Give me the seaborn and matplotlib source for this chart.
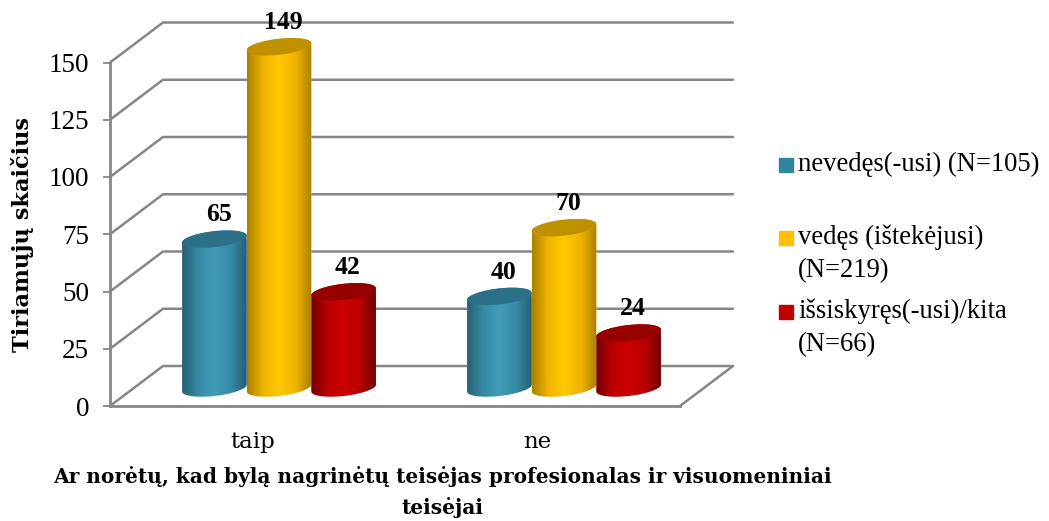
import numpy as np
import pandas as pd
import matplotlib
matplotlib.use("Agg")
import matplotlib.pyplot as plt
import seaborn as sns
from matplotlib.colors import LinearSegmentedColormap
from matplotlib.patches import PathPatch, Polygon, Rectangle
from matplotlib.path import Path

categories = ["taip", "ne"]
series_names = ["nevedęs(-usi) (N=105)", "vedęs (ištekėjusi)\n(N=219)", "išsiskyręs(-usi)/kita\n(N=66)"]
nevedes = [65, 40]
vedes = [149, 70]
issiskyres = [42, 24]
y_ticks = [0, 25, 50, 75, 100, 125, 150]
y_label = "Tiriamųjų skaičius"
x_label = "Ar norėtų, kad bylą nagrinėtų teisėjas profesionalas ir visuomeniniai\nteisėjai"

base_colors = ["#31859C", "#FFC000", "#C00000"]
shades = [
    ["#265F72", "#368BA6", "#409CB8", "#368BA6", "#265F72"],
    ["#A98000", "#F0B400", "#FFC800", "#F0B400", "#A98000"],
    ["#720000", "#BB0000", "#CC0000", "#BB0000", "#720000"],
]
cap_colors = ["#2B7087", "#BF9000", "#950000"]

W, H = 1049, 521
PX_Y = 343.5 / 150  # pixels per unit
PX_X = 285.0        # pixels per category
FLOOR_Y, LEFT_X, RIGHT_X = 406.0, 110.0, 680.0
BACK_DX, BACK_DY = 53.0, 40.0
GRAY = "#868686"

sns.set_theme(style="white")
plt.rcParams["font.family"] = ["DejaVu Serif", "Liberation Serif"]
plt.rcParams["text.color"] = "black"
plt.rcParams["xtick.color"] = "black"
plt.rcParams["ytick.color"] = "black"
times = ["Liberation Serif", "DejaVu Serif"]

df = pd.DataFrame({
    "answer": categories * 3,
    "group": np.repeat(series_names, len(categories)),
    "count": nevedes + vedes + issiskyres,
})

fig = plt.figure(figsize=(W / 100, H / 100), dpi=100)

# front plane: real y scale, ticks and category labels
ax = fig.add_axes([LEFT_X / W, (H - FLOOR_Y) / H, (RIGHT_X - LEFT_X) / W, 343.5 / H])
ax.set_xlim(-0.5, 1.5)
ax.set_ylim(0, 150)
ax.set_yticks(y_ticks)
ax.set_xticks(range(len(categories)))
ax.set_xticklabels(categories, fontsize=16.5)
ax.set_yticklabels([str(v) for v in y_ticks], fontsize=19.5, family=times)
ax.tick_params(axis="y", length=5, width=1.3, color=GRAY, pad=10, left=True)
ax.tick_params(axis="x", length=0, pad=18)
for name in ["top", "right"]:
    ax.spines[name].set_visible(False)
for name in ["left", "bottom"]:
    ax.spines[name].set_color(GRAY)
    ax.spines[name].set_linewidth(2)
ax.patch.set_alpha(0)

dx = BACK_DX / PX_X
dy = BACK_DY / PX_Y
for v in y_ticks:
    ax.plot([-0.5, -0.5 + dx, 1.5 + dx], [v, v + dy, v + dy], color=GRAY, lw=1.8,
            clip_on=False, zorder=1)
ax.plot([1.5, 1.5 + dx], [0, dy], color=GRAY, lw=1.8, clip_on=False, zorder=1)

fig.text(23 / W, 1 - 235 / H, y_label, rotation=90, ha="center", va="center",
         fontsize=16.2, fontweight="bold")
fig.text(442 / W, 1 - 492 / H, x_label, ha="center", va="center",
         fontsize=14.5, fontweight="bold", linespacing=1.55)

# bars sit on a plane half way back into the floor
ymin, ymax = -10, 165
bar_floor = FLOOR_Y - BACK_DY / 2 + 2
axb = fig.add_axes([(LEFT_X + BACK_DX / 2) / W, (H - bar_floor + ymin * PX_Y) / H,
                    (RIGHT_X - LEFT_X) / W, (ymax - ymin) * PX_Y / H])
sns.barplot(data=df, x="answer", y="count", hue="group", order=categories,
            hue_order=series_names, palette=base_colors, width=0.68, gap=0,
            saturation=1, legend=False, ax=axb)
axb.set_xlim(-0.5, 1.5)
axb.set_ylim(ymin, ymax)
axb.axis("off")

t = np.linspace(0, 2 * np.pi, 121)
tilt = 3.5 / PX_Y
depth = 8.0 / PX_Y


def ellipse_xy(cx, half, y, angles):
    return np.column_stack([cx + half * np.cos(angles),
                            y + tilt * np.cos(angles) + depth * np.sin(angles)])


for i, container in enumerate(axb.containers):
    cmap = LinearSegmentedColormap.from_list(f"cyl{i}", shades[i])
    z = 3 + i
    for bar in container:
        x0, w, v = bar.get_x(), bar.get_width(), bar.get_height()
        cx, half = x0 + w / 2, w / 2
        low = ellipse_xy(cx, half, 0, np.linspace(np.pi, 2 * np.pi, 60))
        top = ellipse_xy(cx, half, v, np.linspace(0, np.pi, 60))
        outline = np.vstack([low, top, low[:1]])
        body = PathPatch(Path(outline), transform=axb.transData)
        bar.set_zorder(z)
        bar.set_clip_path(body)
        im = axb.imshow(np.linspace(0, 1, 256)[None, :], cmap=cmap, aspect="auto",
                        extent=[x0, x0 + w, -6, v + 6], zorder=z, interpolation="bilinear")
        im.set_clip_path(body)
        axb.add_patch(Polygon(ellipse_xy(cx, half, v, t), closed=True, fc=cap_colors[i],
                              ec="none", zorder=z))
        axb.annotate(f"{v:.0f}", (cx, v), xytext=(3, 17.5), textcoords="offset points",
                     ha="center", va="center", fontsize=18.5, fontweight="bold",
                     family=times, color="black", zorder=10, annotation_clip=False)
axb.set_xlim(-0.5, 1.5)
axb.set_ylim(ymin, ymax)

# hand placed legend, the markers line up with the first line of each entry
legend_y = [165, 238, 312]
for name, color, y in zip(series_names, base_colors, legend_y):
    fig.add_artist(Rectangle((779 / W, 1 - (y + 7) / H), 14 / W, 14 / H, color=color,
                             transform=fig.transFigure))
    fig.text(798 / W, 1 - (y - 13) / H, name, ha="left", va="top", fontsize=19.2,
             family=times, linespacing=1.4, color="black")

fig.savefig("out.png", dpi=100)
